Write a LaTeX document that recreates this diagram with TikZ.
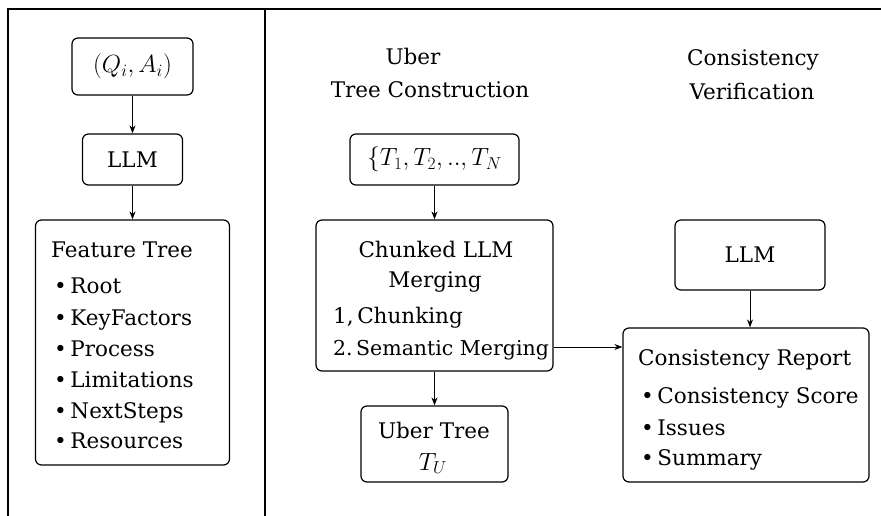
\documentclass[tikz,border=0pt]{standalone}
\usepackage{fontspec}
\setmainfont{DejaVu Serif}
\usetikzlibrary{arrows.meta,calc}
\begin{document}
\begin{tikzpicture}[x=1pt,y=-1pt,
  font=\fontsize{21.5}{31}\selectfont,
  box/.style={draw, rounded corners=6pt, line width=1.2pt, inner sep=0pt},
  mathfont/.style={font=\fontsize{26.5}{31}\selectfont},
  txt/.style={inner sep=0pt, anchor=base west},
  ctxt/.style={inner sep=0pt, anchor=base},
  arr/.style={-{Stealth[length=8pt,width=6pt]}, line width=1pt},
  frame/.style={line width=1.5pt}]
\useasboundingbox (0,0) rectangle (881,516);
% frame
\draw[frame] (8,516) -- (8,9) -- (881,9);
\draw[frame] (265,9) -- (265,516);
% left column
\node[box, mathfont, minimum width=121pt, minimum height=57pt] (qa) at (132.5,66.5) {$(Q_i, A_i)$};
\node[box, minimum width=100pt, minimum height=51pt] (llmA) at (132.5,159.5) {LLM};
\node[box, minimum width=194pt, minimum height=245pt] (ft) at (132.5,342.5) {};
\node[txt] (ftH) at (51,257) {Feature Tree};
\node[txt] (ft1) at (54,293) {\textbullet\,Root};
\node[txt] (ft2) at (54,325) {\textbullet\,KeyFactors};
\node[txt] (ft3) at (54,356) {\textbullet\,Process};
\node[txt] (ft4) at (54,387) {\textbullet\,Limitations};
\node[txt] (ft5) at (54,418) {\textbullet\,NextSteps};
\node[txt] (ft6) at (54,448) {\textbullet\,Resources};
\draw[arr] (qa) -- (llmA);
\draw[arr] (llmA) -- (ft);
% middle column
\node[ctxt] (t1a) at (413,65) {Uber};
\node[ctxt] (t1b) at (430,98) {Tree Construction};
\node[box, mathfont, minimum width=169pt, minimum height=51pt] (tset) at (434.5,159.5) {$\{T_1, T_2, .., T_N$};
\node[box, minimum width=237pt, minimum height=151pt] (chunk) at (434.5,295.5) {};
\node[ctxt] (ch1) at (436,257) {Chunked LLM};
\node[ctxt] (ch2) at (435,287) {Merging};
\node[txt] (ch3) at (333,323) {1,\,Chunking};
\node[txt, font=\fontsize{20.5}{31}\selectfont] (ch4) at (333,355) {2.\,Semantic Merging};
\node[box, minimum width=147pt, minimum height=76pt] (uber) at (434.5,444) {};
\node[ctxt] (ub1) at (434,438) {Uber Tree};
\node[ctxt, mathfont] (ub2) at (433,470) {$T_U$};
\draw[arr] (tset) -- (chunk);
\draw[arr] (chunk) -- (uber);
% right column
\node[ctxt] (t2a) at (753,66) {Consistency};
\node[ctxt] (t2b) at (752,100) {Verification};
\node[box, minimum width=150pt, minimum height=70pt] (llmB) at (750,255) {LLM};
\node[box, minimum width=246pt, minimum height=154pt] (rep) at (746,405) {};
\node[txt] (rpH) at (638,365) {Consistency Report};
\node[txt] (rp1) at (641,403) {\textbullet\,Consistency Score};
\node[txt] (rp2) at (641,435) {\textbullet\,Issues};
\node[txt] (rp3) at (641,465) {\textbullet\,Summary};
\draw[arr] (llmB) -- (llmB |- rep.north);
\draw[arr] ([yshift=-51.5pt]chunk.east) -- ([yshift=-51.5pt]chunk.east -| rep.west);
\end{tikzpicture}
\end{document}
